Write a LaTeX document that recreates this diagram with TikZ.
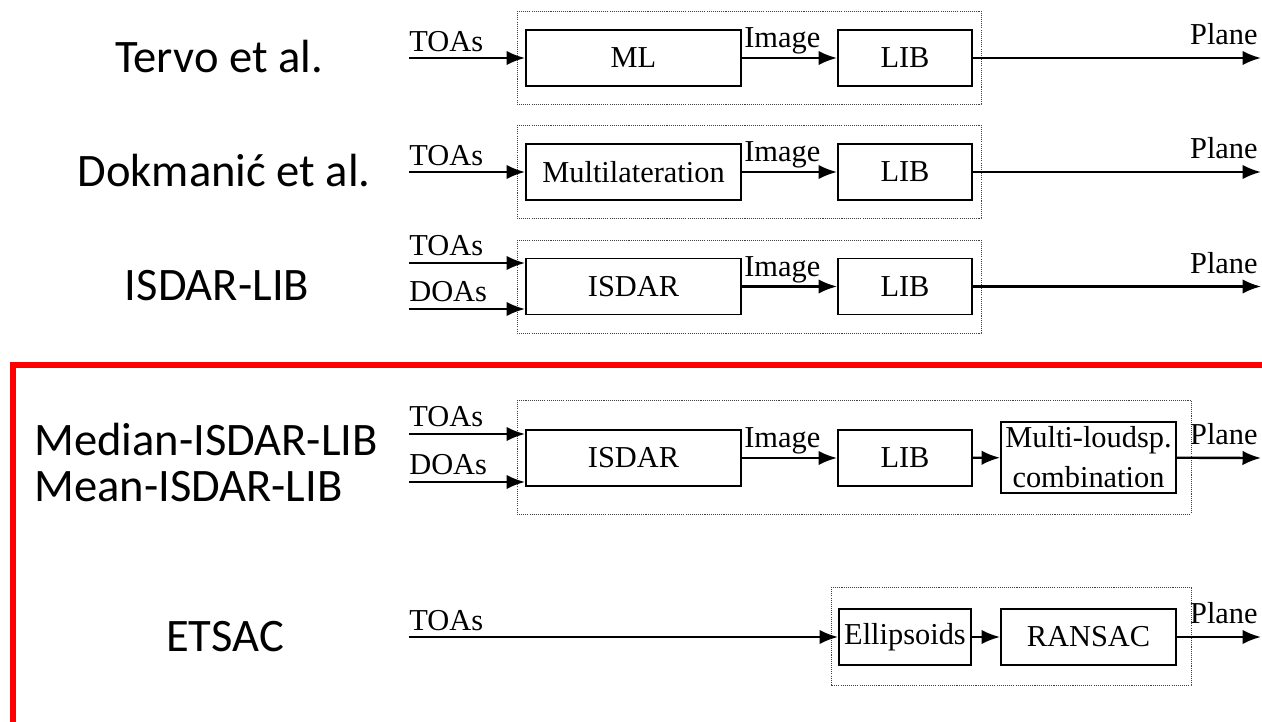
\documentclass[tikz,border=0pt]{standalone}
\usepackage{fontspec}
\setmainfont{Liberation Serif}
\newfontfamily\methfont{Carlito}
\usetikzlibrary{arrows.meta,positioning}

\tikzset{
  blk/.style={draw, line width=1.1pt, inner sep=1pt, minimum height=1.12cm, font=\fontsize{17.3}{22.7}\selectfont},
  arr/.style={line width=1.35pt, -{Latex[length=3.7mm,width=2.9mm]}},
  sig/.style={inner sep=0pt, font=\fontsize{17.3}{20}\selectfont},
  grp/.style={line width=0.5pt, dash pattern=on 0.6pt off 0.6pt, black!75},
  meth/.style={inner sep=0pt, anchor=base, font=\methfont\fontsize{26.5}{30}\selectfont},
}

\begin{document}
\begin{tikzpicture}[x=0.02cm, y=-0.02cm, line join=miter]
\useasboundingbox (0,0) rectangle (1262,722);

% method names
\node[meth] (tervo)    at (219,73)  {Tervo et al.};
\node[meth] (dokm)     at (224,187) {Dokmanić et al.};
\node[meth] (isdarlib) at (217,301) {ISDAR-LIB};
\node[meth, anchor=base west] (median) at (34,456) {Median-ISDAR-LIB};
\node[meth, anchor=base west] (mean)   at (34,502) {Mean-ISDAR-LIB};
\node[meth] (etsac)    at (225,652) {ETSAC};

% proposed methods
\draw[red, line width=3.4pt] (1262,365) -- (13,365) -- (13,722);

% row 1: ML + LIB
\draw[grp] (517,11) rectangle (981,104);
\node[blk, minimum width=4.3cm]  (ml)   at (633.5,58) {ML};
\node[blk, minimum width=2.68cm] (lib1) at (905,58)   {LIB};
\coordinate (in1)  at (409,58);
\coordinate (out1) at (1261,58);
\draw[arr] (in1) -- (ml);
\draw[arr] (ml) -- (lib1);
\draw[arr] (lib1) -- (out1);
\node[sig, anchor=base west] (toa1) at (409,52)  {TOAs};
\node[sig, anchor=base west] (img1) at (744,48)  {Image};
\node[sig, anchor=base east] (pln1) at (1258,45) {Plane};

% row 2: multilateration + LIB
\draw[grp] (517,125) rectangle (981,218);
\node[blk, minimum width=4.3cm]  (mlat) at (633.5,172) {Multilateration};
\node[blk, minimum width=2.68cm] (lib2) at (905,172)   {LIB};
\coordinate (in2)  at (409,172);
\coordinate (out2) at (1261,172);
\draw[arr] (in2) -- (mlat);
\draw[arr] (mlat) -- (lib2);
\draw[arr] (lib2) -- (out2);
\node[sig, anchor=base west] (toa2) at (409,166)  {TOAs};
\node[sig, anchor=base west] (img2) at (744,162)  {Image};
\node[sig, anchor=base east] (pln2) at (1258,159) {Plane};

% row 3: ISDAR + LIB
\draw[grp] (517,240) rectangle (981,333);
\node[blk, minimum width=4.3cm]  (isdar3) at (633.5,286.5) {ISDAR};
\node[blk, minimum width=2.68cm] (lib3)   at (905,286.5)   {LIB};
\coordinate (in3a) at (409,263);
\coordinate (in3b) at (409,309);
\coordinate (out3) at (1261,286.5);
\draw[arr] (in3a) -- (isdar3.west |- in3a);
\draw[arr] (in3b) -- (isdar3.west |- in3b);
\draw[arr] (isdar3) -- (lib3);
\draw[arr] (lib3) -- (out3);
\node[sig, anchor=base west] (toa3) at (409,256)    {TOAs};
\node[sig, anchor=base west] (doa3) at (409,302)    {DOAs};
\node[sig, anchor=base west] (img3) at (744,276.5)  {Image};
\node[sig, anchor=base east] (pln3) at (1258,273.5) {Plane};

% row 4: ISDAR + LIB + combination
\draw[grp] (517,400) rectangle (1191,514);
\node[blk, minimum width=4.3cm]  (isdar4) at (633.5,458) {ISDAR};
\node[blk, minimum width=2.68cm] (lib4)   at (905,458)   {LIB};
\node[blk, minimum width=3.5cm, minimum height=1.42cm, align=center] (comb) at (1088.5,457.5) {Multi-loudsp.\\combination};
\coordinate (in4a) at (409,434);
\coordinate (in4b) at (409,482);
\coordinate (out4) at (1261,458);
\draw[arr] (in4a) -- (isdar4.west |- in4a);
\draw[arr] (in4b) -- (isdar4.west |- in4b);
\draw[arr] (isdar4) -- (lib4);
\draw[arr] (lib4) -- (comb);
\draw[arr] (comb) -- (out4);
\node[sig, anchor=base west] (toa4) at (409,427)  {TOAs};
\node[sig, anchor=base west] (doa4) at (409,475)  {DOAs};
\node[sig, anchor=base west] (img4) at (744,448)  {Image};
\node[sig, anchor=base east] (pln4) at (1258,445) {Plane};

% row 5: ellipsoids + RANSAC
\draw[grp] (831,587) rectangle (1191,685);
\node[blk, minimum width=2.64cm] (ellip)  at (905,637)    {Ellipsoids};
\node[blk, minimum width=3.5cm]  (ransac) at (1088.5,637) {RANSAC};
\coordinate (in5)  at (409,637);
\coordinate (out5) at (1261,637);
\draw[arr] (in5) -- (ellip);
\draw[arr] (ellip) -- (ransac);
\draw[arr] (ransac) -- (out5);
\node[sig, anchor=base west] (toa5) at (409,631)  {TOAs};
\node[sig, anchor=base east] (pln5) at (1258,624) {Plane};
\end{tikzpicture}
\end{document}
